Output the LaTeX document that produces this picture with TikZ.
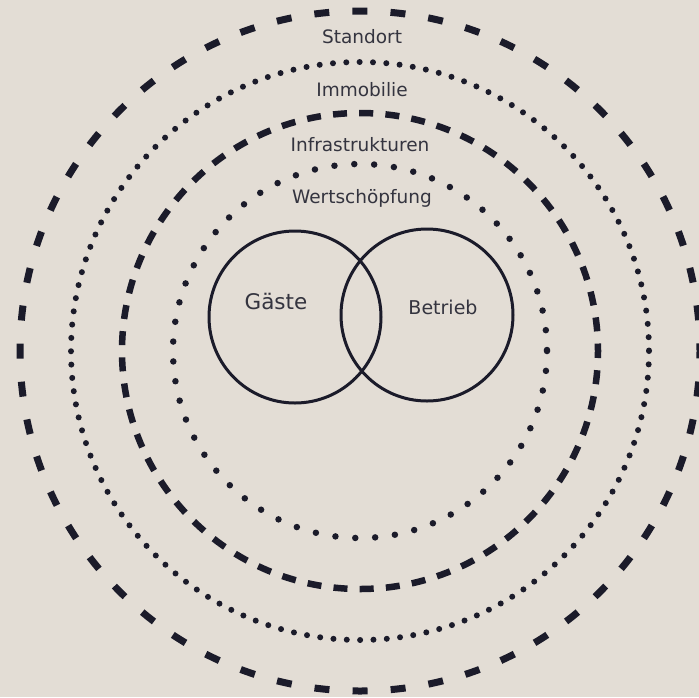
\documentclass[tikz,border=0pt]{standalone}
\usepackage{fontspec}
\setmainfont{DejaVu Sans}
\definecolor{bgc}{HTML}{E3DDD5}
\definecolor{ink}{HTML}{1B1B2A}
\definecolor{txt}{HTML}{34343F}
\tikzset{
  ringdash/.style={draw=ink, line width=7pt, line cap=butt},
  ringdot/.style={draw=ink, line cap=round},
  venn/.style={draw=ink, line width=3pt},
  lbl/.style={text=txt, font=\fontsize{18.5}{20}\selectfont, inner sep=0pt}
}
\begin{document}
\begin{tikzpicture}[x=1pt,y=-1pt]
\fill[bgc] (0,0) rectangle (699,697);
\useasboundingbox (0,0) rectangle (699,697);
\coordinate (c) at (360,351);
% rings
\draw[ringdash, dash pattern=on 15pt off 23.15pt, dash phase=7.5pt] (c) circle[radius=340];
\draw[ringdot, line width=6pt, dash pattern=on 0pt off 13.35pt] (c) circle[radius=289];
\draw[ringdash, line width=6.5pt, dash pattern=on 14pt off 12.23pt, dash phase=7pt] (c) circle[radius=238];
\draw[ringdot, line width=6.5pt, dash pattern=on 0pt off 19.9pt] (c) circle[radius=187];
% labels
\node[lbl] (standort) at (362,37) {Standort};
\node[lbl] (immobilie) at (362,90) {Immobilie};
\node[lbl] (infra) at (360,145) {Infrastrukturen};
\node[lbl] (wert) at (362,198) {Wertschöpfung};
% venn
\coordinate (g) at (295,317);
\coordinate (b) at (427,315);
\draw[venn] (g) circle[radius=86];
\draw[venn] (b) circle[radius=86];
\node[lbl, font=\fontsize{21.5}{23}\selectfont] (gaeste) at (276,301) {Gäste};
\node[lbl, font=\fontsize{19}{21}\selectfont] (betrieb) at (443,307) {Betrieb};
\end{tikzpicture}
\end{document}
